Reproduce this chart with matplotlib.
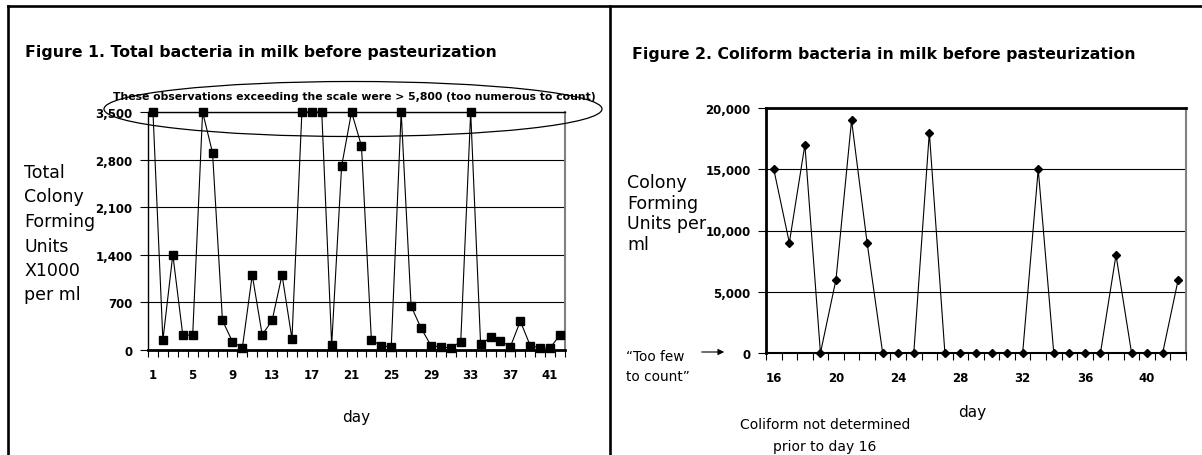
import numpy as np
import matplotlib
matplotlib.use("Agg")
import matplotlib.pyplot as plt
from matplotlib.patches import Ellipse, FancyArrowPatch
from matplotlib.lines import Line2D
from matplotlib.ticker import FuncFormatter

W, H = 1202, 456

# Figure 1: total bacteria (x1000 CFU per ml); 3500 means off-scale
total_days = list(range(1, 43))
total_cfu = [3500, 140, 1400, 220, 210, 3500, 2900, 430, 120, 25,
             1100, 220, 430, 1100, 160, 3500, 3500, 3500, 70, 2700,
             3500, 3000, 140, 60, 40, 3500, 640, 320, 60, 40,
             25, 120, 3500, 80, 180, 130, 45, 420, 60, 25,
             25, 220]
total_label_days = list(range(1, 43, 4))
total_yticks = [0, 700, 1400, 2100, 2800, 3500]

# Figure 2: coliform bacteria (CFU per ml), from day 16
coli_days = list(range(16, 43))
coli_cfu = [15000, 9000, 17000, 0, 6000, 19000, 9000, 0, 0, 0,
            18000, 0, 0, 0, 0, 0, 0, 15000, 0, 0,
            0, 0, 8000, 0, 0, 0, 6000]
coli_label_days = list(range(16, 43, 4))
coli_yticks = [0, 5000, 10000, 15000, 20000]

left_ylabel = ["Total", "Colony", "Forming", "Units", "X1000", "per ml"]
right_ylabel = ["Colony", "Forming", "Units per", "ml"]


def fx(x):
    return x / W


def fy(y):
    return 1 - y / H


def px_axes(fig, x0, y0, x1, y1):
    return fig.add_axes([fx(x0), fy(y1), (x1 - x0) / W, (y1 - y0) / H])


def style_axes(ax, days, label_days, yticks):
    ax.set_xlim(days[0] - 0.5, days[-1] + 0.5)
    ax.set_ylim(yticks[0], yticks[-1])
    ax.set_yticks(yticks)
    ax.yaxis.set_major_formatter(FuncFormatter(lambda v, p: f"{int(v):,}"))
    ax.set_xticks(label_days)
    ax.set_xticks(np.arange(days[0] - 0.5, days[-1] + 1, 1), minor=True)
    ax.tick_params(axis='x', which='major', length=0, pad=13, labelsize=8.5)
    ax.tick_params(axis='x', which='minor', length=5, width=0.8, direction='out')
    ax.tick_params(axis='y', length=6, width=0.8, pad=5, labelsize=8.5)
    ax.grid(axis='y', color='black', linewidth=0.8)
    ax.set_axisbelow(True)
    for lab in ax.get_xticklabels() + ax.get_yticklabels():
        lab.set_fontweight('bold')


fig = plt.figure(figsize=(W / 100, H / 100), dpi=100)

# frames around the two panels
frame = dict(color='black', linewidth=1.9, transform=fig.transFigure)
fig.add_artist(Line2D([fx(8), fx(1202)], [fy(7), fy(7)], **frame))
fig.add_artist(Line2D([fx(8), fx(8)], [fy(7), fy(456)], **frame))
fig.add_artist(Line2D([fx(610), fx(610)], [fy(7), fy(456)], **frame))

# ---- Figure 1
ax1 = px_axes(fig, 148, 113, 565, 350.7)
style_axes(ax1, total_days, total_label_days, total_yticks)
ax1.plot(total_days, total_cfu, color='black', linewidth=0.8,
         marker='s', markersize=5.5, clip_on=False, zorder=3)
ax1.spines['left'].set_linewidth(1.0)
ax1.spines['bottom'].set_linewidth(2.0)
ax1.spines['top'].set_linewidth(1.0)
ax1.spines['right'].set_color('#808080')
ax1.spines['right'].set_linewidth(1.5)

fig.text(fx(25), fy(52), "Figure 1. Total bacteria in milk before pasteurization",
         fontsize=11.3, fontweight='bold', va='center', ha='left')
for i, s in enumerate(left_ylabel):
    fig.text(fx(24), fy(173 + 24.5 * i), s, fontsize=12.5, va='center', ha='left')
fig.text(fx(356), fy(418), "day", fontsize=11, va='center', ha='center')

fig.add_artist(Ellipse((fx(353), fy(110)), 498 / W, 55 / H, transform=fig.transFigure,
                       fill=False, edgecolor='black', linewidth=0.9))
fig.text(fx(354), fy(97),
         "These observations exceeding the scale were > 5,800 (too numerous to count)",
         fontsize=7.8, fontweight='bold', va='center', ha='center')

# ---- Figure 2
ax2 = px_axes(fig, 766, 109, 1186, 354)
style_axes(ax2, coli_days, coli_label_days, coli_yticks)
ax2.plot(coli_days, coli_cfu, color='black', linewidth=0.8,
         marker='D', markersize=3.8, clip_on=False, zorder=3)
ax2.spines['left'].set_linewidth(2.0)
ax2.spines['bottom'].set_linewidth(1.5)
ax2.spines['top'].set_linewidth(2.0)
ax2.spines['right'].set_color('#808080')
ax2.spines['right'].set_linewidth(1.5)

fig.text(fx(632), fy(55), "Figure 2. Coliform bacteria in milk before pasteurization",
         fontsize=11.3, fontweight='bold', va='center', ha='left')
for i, s in enumerate(right_ylabel):
    fig.text(fx(627), fy(183 + 20.7 * i), s, fontsize=12.5, va='center', ha='left')
fig.text(fx(972), fy(413), "day", fontsize=11, va='center', ha='center')
fig.text(fx(825), fy(425), "Coliform not determined", fontsize=10, va='center', ha='center')
fig.text(fx(825), fy(447), "prior to day 16", fontsize=10, va='center', ha='center')
fig.text(fx(626), fy(357), "\u201cToo few", fontsize=9.8, va='center', ha='left')
fig.text(fx(626), fy(377), "to count\u201d", fontsize=9.8, va='center', ha='left')
fig.add_artist(FancyArrowPatch((fx(699), fy(353)), (fx(727), fy(353)),
                               transform=fig.transFigure, arrowstyle='-|>',
                               mutation_scale=9, linewidth=0.8, color='black'))

fig.savefig("out.png", dpi=100)
